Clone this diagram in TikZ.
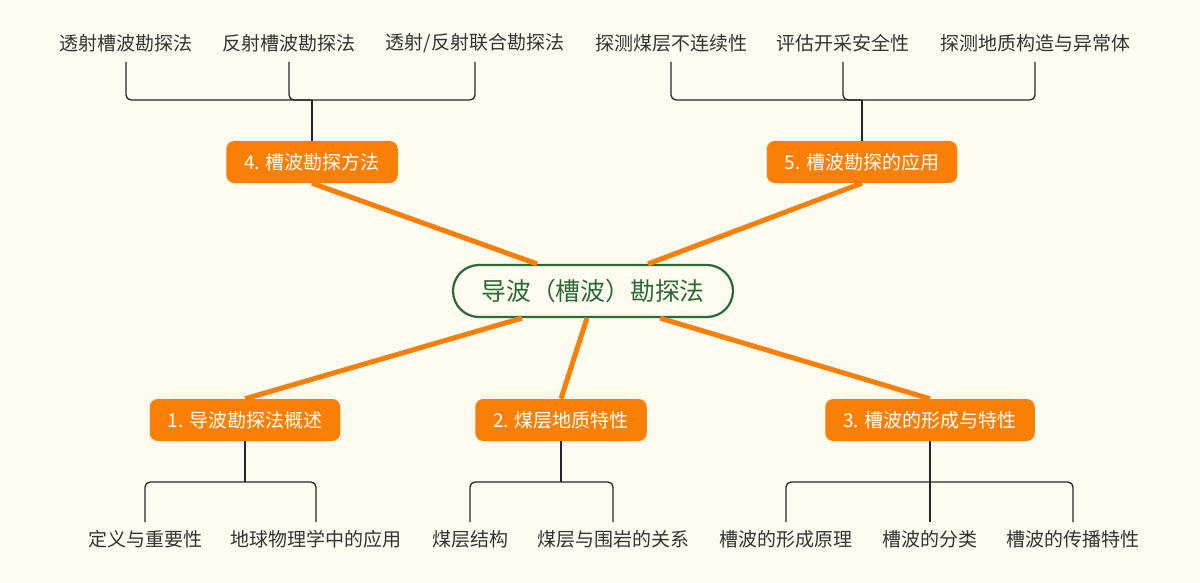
\documentclass[tikz,border=0pt]{standalone}
\usepackage{fontspec}
\setmainfont{Noto Sans CJK SC}
\usetikzlibrary{calc}
\definecolor{bgc}{HTML}{FEFBF0}
\definecolor{orng}{HTML}{F97F06}
\definecolor{grn}{HTML}{2A6A35}
\definecolor{txt}{HTML}{333333}
\tikzset{
  leaf/.style={inner sep=0pt, text=txt, font=\fontsize{19}{21}\selectfont},
  topic/.style={fill=orng, text=white, rounded corners=8pt, minimum height=42pt, inner xsep=18pt, inner ysep=0pt, font=\fontsize{19}{21}\selectfont},
  root/.style={draw=grn, line width=2.2pt, fill=bgc, text=grn, rounded corners=26pt, minimum width=280pt, minimum height=52pt, font=\fontsize{24.8}{28}\selectfont},
  link/.style={draw=orng, line width=5pt},
  br/.style={draw=black!85, line width=1.3pt, rounded corners=5pt},
}
\begin{document}
\begin{tikzpicture}[x=1pt,y=-1pt]
\useasboundingbox (0,0) rectangle (1200,583);
\fill[bgc] (0,0) rectangle (1200,583);

\node[root] (c) at (593,291) {导波（槽波）勘探法};

\node[topic] (o4) at (312,162) {4. 槽波勘探方法};
\node[topic] (o5) at (862,162) {5. 槽波勘探的应用};
\node[topic] (o1) at (245,420) {1. 导波勘探法概述};
\node[topic] (o2) at (561,420) {2. 煤层地质特性};
\node[topic] (o3) at (930,420) {3. 槽波的形成与特性};

\draw[link] ($(c.north)+(-56,0)$) -- (o4.south);
\draw[link] ($(c.north)+(55,0)$) -- (o5.south);
\draw[link] ($(c.south)+(-71,0)$) -- (o1.north);
\draw[link] ($(c.south)+(-6,0)$) -- (o2.north);
\draw[link] ($(c.south)+(67,0)$) -- (o3.north);

% top leaves
\node[leaf] (a1) at (126,43) {透射槽波勘探法};
\node[leaf] (a2) at (289,43) {反射槽波勘探法};
\node[leaf] (a3) at (475,43) {透射/反射联合勘探法};
\node[leaf] (b1) at (671,43) {探测煤层不连续性};
\node[leaf] (b2) at (843,43) {评估开采安全性};
\node[leaf] (b3) at (1035,43) {探测地质构造与异常体};

\coordinate (ytop) at (0,62);
\coordinate (ymid) at (0,100);
\coordinate (h4) at (o4.north |- ymid);
\coordinate (h5) at (o5.north |- ymid);

\draw[br] (a1 |- ytop) |- (a3 |- ymid) -- (a3 |- ytop);
\draw[br] (a2 |- ytop) |- (h4);
\draw[br] (h4) -- (o4.north);
\draw[br] (b1 |- ytop) |- (b3 |- ymid) -- (b3 |- ytop);
\draw[br] (b2 |- ytop) |- (h5);
\draw[br] (h5) -- (o5.north);

% bottom leaves
\node[leaf] (d1) at (145,539) {定义与重要性};
\node[leaf] (d2) at (316,539) {地球物理学中的应用};
\node[leaf] (e1) at (470,539) {煤层结构};
\node[leaf] (e2) at (613,539) {煤层与围岩的关系};
\node[leaf] (f1) at (786,539) {槽波的形成原理};
\node[leaf] (f2) at (930,539) {槽波的分类};
\node[leaf] (f3) at (1073,539) {槽波的传播特性};

\coordinate (ybot) at (0,522);
\coordinate (yh) at (0,482);

\draw[br] (o1.south) -- (o1.south |- yh);
\draw[br] (d1 |- ybot) |- (d2 |- yh) -- (d2 |- ybot);
\draw[br] (o2.south) -- (o2.south |- yh);
\draw[br] (e1 |- ybot) |- (e2 |- yh) -- (e2 |- ybot);
\draw[br] (f1 |- ybot) |- (f3 |- yh) -- (f3 |- ybot);
\draw[br] (o3.south) -- (o3.south |- ybot);
\end{tikzpicture}
\end{document}
